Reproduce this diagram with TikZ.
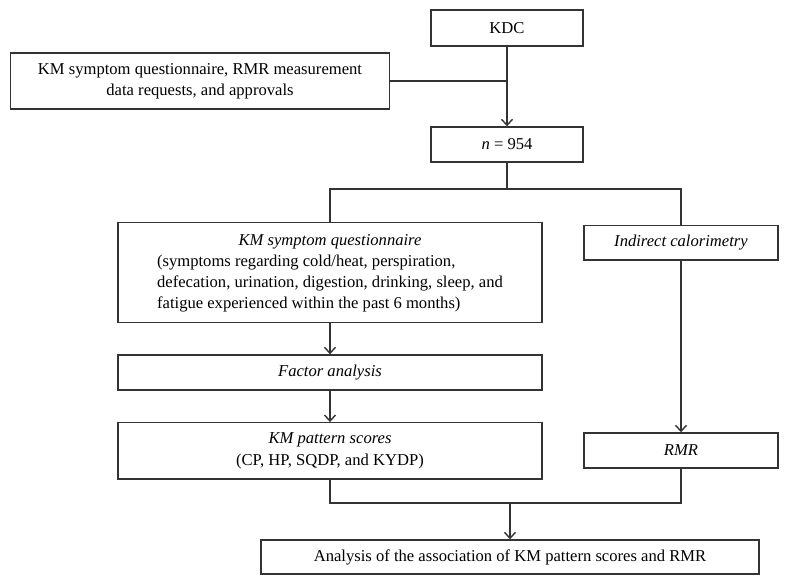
\documentclass[tikz,border=0pt]{standalone}
\usepackage{fontspec}
\setmainfont{Liberation Serif}
\usetikzlibrary{arrows.meta}
\begin{document}
\begin{tikzpicture}[x=1pt,y=-1pt,
  box/.style={draw=black!80, line width=1.4pt, inner sep=0pt, align=center,
    font=\fontsize{16.6}{21.3}\selectfont},
  conn/.style={draw=black!80, line width=1.4pt},
  arr/.style={conn, -{Straight Barb[length=6pt,width=11pt]}}]
\useasboundingbox (0,0) rectangle (788,585);
\node[box, minimum width=152pt, minimum height=36pt] (kdc) at (507,28) {KDC};
\node[box, minimum width=379pt, minimum height=56pt] (req) at (200,81)
  {KM symptom questionnaire, RMR measurement\\data requests, and approvals};
\node[box, minimum width=152pt, minimum height=35pt] (n) at (507,144.5) {\textit{n} = 954};
\node[box, minimum width=424pt, minimum height=100pt] (kmq) at (330,272.7)
  {\begin{tabular}{@{}c@{}}\textit{KM symptom questionnaire}\\
   \begin{tabular}[t]{@{}l@{}}(symptoms regarding cold/heat, perspiration,\\
   defecation, urination, digestion, drinking, sleep, and\\
   fatigue experienced within the past 6 months)\end{tabular}\end{tabular}};
\node[box, minimum width=194pt, minimum height=34.3pt] (ind) at (681,242.9) {\textit{Indirect calorimetry}};
\node[box, minimum width=424pt, minimum height=35pt] (fa) at (330,372.5) {\textit{Factor analysis}};
\node[box, minimum width=424pt, minimum height=56.3pt] (kmp) at (330,450.9)
  {\textit{KM pattern scores}\\(CP, HP, SQDP, and KYDP)};
\node[box, minimum width=194pt, minimum height=35pt] (rmr) at (681,450.5) {\textit{RMR}};
\node[box, minimum width=498pt, minimum height=34pt] (ana) at (510,557)
  {Analysis of the association of KM pattern scores and RMR};
\coordinate (split) at (507,189);
\coordinate (merge) at (510,503);
\draw[conn] (req.east) -- (req.east -| kdc.south);
\draw[arr] (kdc.south) -- (n.north);
\draw[conn] (n.south) -- (split);
\draw[conn] (kmq.north) -- (kmq.north |- split) -- (ind.north |- split) -- (ind.north);
\draw[arr] (kmq.south) -- (fa.north);
\draw[arr] (fa.south) -- (kmp.north);
\draw[arr] (ind.south) -- (rmr.north);
\draw[conn] (kmp.south) -- (kmp.south |- merge) -- (rmr.south |- merge) -- (rmr.south);
\draw[arr] (merge) -- (ana.north);
\end{tikzpicture}
\end{document}
